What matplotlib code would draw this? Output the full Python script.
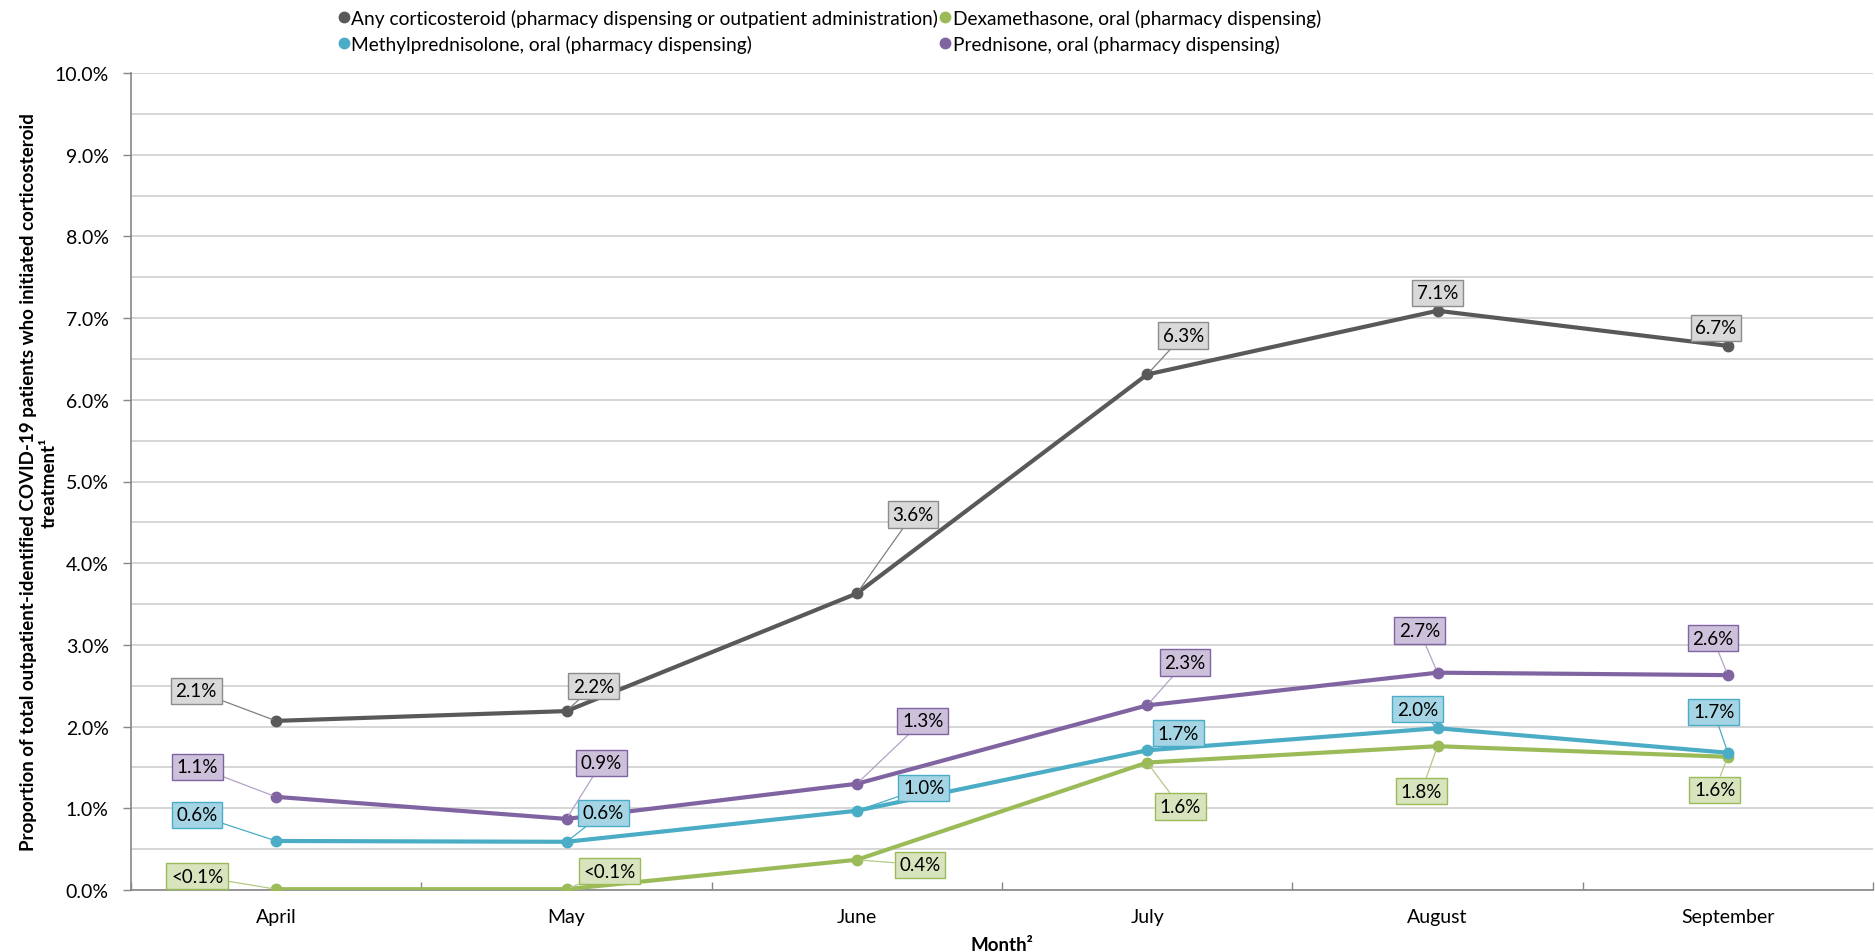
import matplotlib
matplotlib.use('Agg')
import matplotlib.pyplot as plt
from matplotlib.lines import Line2D
from matplotlib.ticker import MultipleLocator, FuncFormatter, FixedLocator

plt.rcParams['font.family'] = ['Lato', 'DejaVu Sans']

# ---- data ----
months = ['April', 'May', 'June', 'July', 'August', 'September']
any_cs = [2.07, 2.19, 3.63, 6.31, 7.09, 6.66]
dexa = [0.01, 0.01, 0.37, 1.56, 1.76, 1.63]
methyl = [0.60, 0.59, 0.97, 1.71, 1.98, 1.68]
pred = [1.14, 0.87, 1.30, 2.26, 2.66, 2.63]

any_labels = ['2.1%', '2.2%', '3.6%', '6.3%', '7.1%', '6.7%']
dexa_labels = ['<0.1%', '<0.1%', '0.4%', '1.6%', '1.8%', '1.6%']
methyl_labels = ['0.6%', '0.6%', '1.0%', '1.7%', '2.0%', '1.7%']
pred_labels = ['1.1%', '0.9%', '1.3%', '2.3%', '2.7%', '2.6%']

series_names = ['Any corticosteroid (pharmacy dispensing or outpatient administration)',
                'Dexamethasone, oral (pharmacy dispensing)',
                'Methylprednisolone, oral (pharmacy dispensing)',
                'Prednisone, oral (pharmacy dispensing)']

# ---- layout / style (label offsets in pixels) ----
any_off = [(-80, 30), (27, 25), (56, 79), (36, 39), (0, 18), (-12, 18)]
pred_off = [(-79, 30), (35, 56), (66, 63), (38, 43), (-18, 42), (-15, 37)]
methyl_off = [(-79, 26), (37, 29), (67, 23), (31, 17), (-20, 19), (-14, 41)]
dexa_off = [(-79, 13), (43, 18), (63, -5), (33, -44), (-16, -45), (-13, -33)]

styles = {
    'any': dict(line='#595959', fc='#d9d9d9', ec='#8c8c8c', lead='#7f7f7f'),
    'dexa': dict(line='#9bbb59', fc='#d7e4bd', ec='#9bbb59', lead='#b5c98a'),
    'methyl': dict(line='#4bacc6', fc='#a5d5e5', ec='#4bacc6', lead='#4bacc6'),
    'pred': dict(line='#8064a2', fc='#ccc0da', ec='#8064a2', lead='#b3a2c7'),
}

W, H = 1875, 953
fig = plt.figure(figsize=(W / 100, H / 100), dpi=100)
ax = fig.add_axes([131 / W, 1 - 891 / H, (1873 - 131) / W, (891 - 74) / H])

x = list(range(len(months)))
FS = 13.5

series = [
    ('any', any_cs, any_labels, any_off),
    ('dexa', dexa, dexa_labels, dexa_off),
    ('methyl', methyl, methyl_labels, methyl_off),
    ('pred', pred, pred_labels, pred_off),
]
zorders = {'any': 5, 'dexa': 3, 'methyl': 4, 'pred': 4.5}

for key, vals, labs, offs in series:
    st = styles[key]
    ax.plot(x, vals, color=st['line'], lw=3, marker='o', ms=7.5,
            zorder=zorders[key], solid_capstyle='round')
    for xi, v, lab, off in zip(x, vals, labs, offs):
        ax.annotate(lab, xy=(xi, v), xytext=off, textcoords='offset pixels',
                    ha='center', va='center', fontsize=FS, color='black',
                    bbox=dict(boxstyle='square,pad=0.25', fc=st['fc'], ec=st['ec'], lw=1),
                    arrowprops=dict(arrowstyle='-', color=st['lead'], lw=0.9,
                                    shrinkA=0, shrinkB=3),
                    zorder=10)

ax.set_xlim(-0.5, len(months) - 0.5)
ax.set_ylim(0, 10)

ax.yaxis.set_major_locator(MultipleLocator(1))
ax.yaxis.set_minor_locator(MultipleLocator(0.5))
ax.yaxis.set_major_formatter(FuncFormatter(lambda v, p: f'{v:.1f}%'))
ax.grid(axis='y', which='both', color='#cfcfcf', lw=1.2, zorder=0)
ax.set_axisbelow(True)

ax.set_xticks(x)
ax.set_xticklabels(months)
ax.xaxis.set_minor_locator(FixedLocator([i - 0.5 for i in range(len(months) + 1)]))

ax.tick_params(axis='y', which='major', length=6, width=1, color='#868686',
               labelsize=14, pad=10, direction='out')
ax.tick_params(axis='y', which='minor', length=0)
ax.tick_params(axis='x', which='major', length=0, labelsize=14, pad=13)
ax.tick_params(axis='x', which='minor', length=6, width=1, color='#868686', direction='in')

for s in ['top', 'right']:
    ax.spines[s].set_visible(False)
for s in ['left', 'bottom']:
    ax.spines[s].set_color('#868686')
    ax.spines[s].set_linewidth(1.2)

ax.set_xlabel('Month²', fontsize=13.5, fontweight='bold')
ax.xaxis.set_label_coords(0.5, -0.056)
ax.set_ylabel('Proportion of total outpatient-identified COVID-19 patients who initiated corticosteroid\ntreatment¹',
              fontsize=13.5, fontweight='bold', linespacing=1.25)
ax.yaxis.set_label_coords(-0.042, 0.5)

keys = ['any', 'dexa', 'methyl', 'pred']
handles = [Line2D([], [], ls='none', marker='o', ms=7.5, color=styles[k]['line']) for k in keys]
order = [0, 2, 1, 3]
fig.legend([handles[i] for i in order], [series_names[i] for i in order],
           ncol=2, loc='upper left', bbox_to_anchor=(338 / W, 1 - 10 / H),
           frameon=False, fontsize=13.8, handlelength=0.6, handletextpad=0.1,
           columnspacing=0.05, labelspacing=0.42, borderpad=0, borderaxespad=0)

fig.savefig('out.png', dpi=100)
